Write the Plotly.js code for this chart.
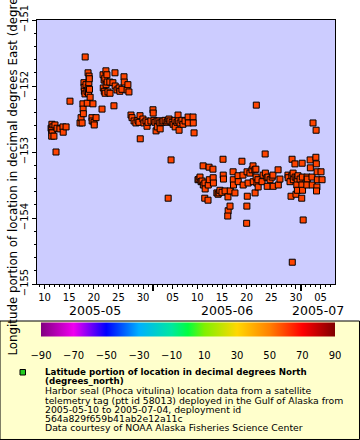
<!DOCTYPE html>
<html>
<head>
<meta charset="utf-8">
<script src="https://cdn.plot.ly/plotly-3.0.1.min.js"></script>
<style>html,body{margin:0;padding:0;background:#fff}#chart{width:360px;height:440px}</style>
</head>
<body>
<div id="chart"></div>
<script>
// ---- data ----
const time = [
'2005-05-11 08:00','2005-05-11 12:00','2005-05-11 17:00','2005-05-11 11:00','2005-05-11 16:00','2005-05-11 13:00','2005-05-11 11:00','2005-05-11 22:00',
'2005-05-12 03:00','2005-05-12 08:00','2005-05-12 13:00','2005-05-13 03:00','2005-05-13 18:00','2005-05-13 19:00','2005-05-14 09:00','2005-05-15 04:00',
'2005-05-17 05:00','2005-05-17 10:00','2005-05-17 15:00','2005-05-17 19:00','2005-05-17 20:00','2005-05-17 21:00',
'2005-05-18 00:00','2005-05-18 01:00','2005-05-18 02:00','2005-05-18 05:00','2005-05-18 06:00','2005-05-18 10:00','2005-05-18 15:00','2005-05-18 16:00',
'2005-05-18 20:00','2005-05-18 21:00','2005-05-18 22:00','2005-05-19 00:00','2005-05-19 01:00','2005-05-19 03:00','2005-05-19 02:00','2005-05-19 06:00',
'2005-05-19 15:00','2005-05-19 16:00','2005-05-19 20:00','2005-05-20 01:00','2005-05-20 02:00','2005-05-20 11:00','2005-05-21 16:00',
'2005-05-21 21:00','2005-05-21 22:00','2005-05-22 02:00','2005-05-22 03:00','2005-05-22 06:00','2005-05-22 07:00','2005-05-22 11:00','2005-05-22 12:00',
'2005-05-22 16:00','2005-05-22 17:00','2005-05-22 21:00','2005-05-23 06:00','2005-05-23 07:00','2005-05-23 21:00','2005-05-24 02:00','2005-05-24 07:00',
'2005-05-24 08:00','2005-05-24 17:00','2005-05-25 03:00','2005-05-25 07:00','2005-05-25 17:00','2005-05-26 03:00','2005-05-26 04:00','2005-05-26 18:00',
'2005-05-26 22:00','2005-05-27 03:00',
'2005-05-27 13:00','2005-05-27 18:00','2005-05-28 04:00','2005-05-28 13:00','2005-05-28 23:00','2005-05-29 04:00','2005-05-29 09:00','2005-05-29 10:00',
'2005-05-29 23:00','2005-05-30 04:00','2005-05-30 14:00','2005-05-30 19:00','2005-05-31 00:00','2005-05-31 14:00','2005-06-01 00:00','2005-06-01 01:00',
'2005-06-01 05:00','2005-06-01 10:00','2005-06-01 15:00','2005-06-01 20:00','2005-06-01 21:00','2005-06-02 05:00','2005-06-02 10:00','2005-06-02 11:00',
'2005-06-02 20:00','2005-06-03 01:00','2005-06-03 11:00','2005-06-03 20:00','2005-06-04 01:00','2005-06-04 02:00','2005-06-04 06:00','2005-06-04 11:00',
'2005-06-04 16:00','2005-06-04 21:00','2005-06-05 02:00','2005-06-05 11:00','2005-06-05 12:00','2005-06-05 21:00','2005-06-06 02:00','2005-06-06 03:00',
'2005-06-06 07:00','2005-06-06 12:00','2005-06-06 21:00','2005-06-07 02:00','2005-06-07 12:00','2005-06-08 03:00','2005-06-08 04:00','2005-06-09 03:00',
'2005-06-09 04:00','2005-06-09 08:00',
'2005-06-10 03:00','2005-06-10 08:00','2005-06-10 13:00','2005-06-10 18:00','2005-06-10 23:00','2005-06-11 04:00','2005-06-11 05:00','2005-06-11 13:00',
'2005-06-11 14:00','2005-06-11 12:00','2005-06-12 04:00','2005-06-12 05:00','2005-06-12 09:00','2005-06-12 10:00','2005-06-13 04:00','2005-06-13 05:00',
'2005-06-13 06:00','2005-06-13 23:00','2005-06-14 05:00','2005-06-14 10:00','2005-06-14 14:00','2005-06-15 00:00','2005-06-15 05:00','2005-06-15 06:00',
'2005-06-15 07:00','2005-06-15 15:00','2005-06-16 05:00','2005-06-16 06:00','2005-06-16 04:00','2005-06-16 15:00','2005-06-16 16:00','2005-06-17 06:00',
'2005-06-17 07:00','2005-06-17 08:00','2005-06-17 15:00','2005-06-18 06:00','2005-06-18 07:00','2005-06-19 01:00','2005-06-19 06:00','2005-06-19 07:00',
'2005-06-20 02:00','2005-06-20 03:00','2005-06-20 01:00','2005-06-20 00:00','2005-06-20 07:00','2005-06-20 16:00','2005-06-21 02:00','2005-06-21 07:00',
'2005-06-21 08:00','2005-06-21 17:00','2005-06-21 16:00','2005-06-21 22:00','2005-06-21 21:00','2005-06-21 23:00','2005-06-22 02:00','2005-06-22 07:00',
'2005-06-22 08:00','2005-06-23 03:00','2005-06-23 08:00','2005-06-23 18:00','2005-06-23 19:00','2005-06-24 03:00','2005-06-24 04:00','2005-06-24 08:00',
'2005-06-24 18:00','2005-06-25 04:00','2005-06-25 08:00','2005-06-25 09:00','2005-06-26 09:00','2005-06-26 10:00','2005-06-26 18:00',
'2005-06-28 09:00','2005-06-28 10:00','2005-06-28 19:00','2005-06-29 00:00','2005-06-29 05:00','2005-06-29 04:00','2005-06-29 06:00','2005-06-29 10:00',
'2005-06-29 11:00','2005-06-29 19:00','2005-06-29 20:00','2005-06-30 00:00','2005-06-30 05:00','2005-06-30 06:00','2005-06-30 04:00','2005-06-30 07:00',
'2005-06-30 10:00','2005-06-30 20:00','2005-07-01 06:00','2005-07-01 07:00','2005-07-01 05:00','2005-07-01 08:00','2005-07-01 04:00','2005-07-01 11:00',
'2005-07-02 06:00','2005-07-02 07:00','2005-07-02 05:00','2005-07-02 21:00','2005-07-02 22:00','2005-07-03 06:00','2005-07-03 07:00','2005-07-03 11:00',
'2005-07-04 02:00','2005-07-04 01:00','2005-07-04 03:00','2005-07-04 07:00','2005-07-04 08:00','2005-07-04 06:00','2005-07-04 04:00','2005-07-05 02:00',
'2005-07-05 07:00'
];
const lonEast = [
-152.64,-152.58,-152.62,-152.67,-152.70,-152.71,-152.76,-152.76,
-152.59,-153.00,-152.64,-152.65,-152.62,-152.70,-152.62,-152.23,
-152.56,-152.48,-152.56,-152.27,-152.35,-152.42,
-151.95,-152.02,-152.08,-152.12,-151.56,-151.98,-152.08,-152.26,
-151.80,-152.02,-152.11,-151.95,-151.85,-152.05,-151.89,-152.17,
-152.48,-152.53,-152.27,-152.55,-152.59,-152.48,-152.35,
-151.83,-152.03,-151.91,-152.08,-151.88,-152.11,-151.77,-151.98,
-151.83,-151.94,-152.09,-151.94,-152.11,-151.95,-152.30,-151.80,
-152.00,-152.06,-152.03,-152.08,-152.05,-151.86,-151.94,-152.06,
-151.98,-152.09,
-152.44,-152.48,-152.53,-152.56,-152.52,-152.55,-152.45,-152.80,
-152.50,-152.56,-152.53,-152.61,-152.55,-152.53,-152.36,-152.41,
-152.52,-152.55,-152.68,-152.53,-152.62,-152.53,-152.56,-152.65,
-152.55,-152.53,-152.52,-152.55,-152.53,-153.70,-152.50,-152.53,
-153.12,-152.55,-152.58,-152.52,-152.62,-152.55,-152.44,-152.53,
-152.67,-152.56,-152.52,-152.58,-152.53,-152.47,-152.56,-152.47,
-152.56,-152.71,
-153.42,-153.41,-153.38,-153.45,-153.44,-153.21,-153.50,-153.47,
-153.56,-153.70,-153.73,-153.50,-153.23,-153.42,-153.26,-153.39,
-153.47,-153.62,-153.64,-153.62,-153.58,-153.61,-153.11,-153.35,
-153.41,-153.59,-153.68,-153.89,-153.97,-153.82,-153.59,-153.30,
-153.42,-153.50,-153.62,-153.36,-153.45,-153.14,-153.35,-153.50,
-153.30,-153.67,-153.82,-154.08,-153.47,-153.32,-153.27,-153.21,
-153.45,-153.62,-153.27,-153.38,-153.26,-152.29,-153.47,-153.42,
-153.53,-153.45,-153.35,-153.03,-153.32,-153.39,-153.52,-153.38,
-153.42,-153.38,-153.35,-153.52,-153.27,-153.50,-153.41,
-153.35,-153.39,-153.45,-153.67,-153.11,-153.36,-154.67,-153.32,
-153.42,-153.18,-153.38,-153.64,-153.39,-153.42,-153.50,-153.58,
-153.36,-153.41,-153.17,-153.38,-153.50,-153.58,-153.70,-154.03,
-153.38,-153.41,-153.50,-153.12,-153.24,-153.38,-153.50,-152.56,
-152.67,-153.08,-153.18,-153.30,-153.42,-153.53,-153.59,-153.30,
-153.42
];
const dayTickVals = ['2005-05-10','2005-05-15','2005-05-20','2005-05-25','2005-05-30','2005-06-05','2005-06-10','2005-06-15','2005-06-20','2005-06-25','2005-06-30','2005-07-05'];
const dayTickText = ['10','15','20','25','30','05','10','15','20','25','30','05'];
const monthStarts = ['2005-05-01','2005-06-01','2005-07-01','2005-08-01'];
const monthLabels = ['2005-05','2005-06','2005-07'];
const colorbarTicks = [-90,-70,-50,-30,-10,10,30,50,70,90];
const yTitle = 'Longitude portion of location in decimal degrees East (degrees_east)';
const legendLines = [
  '<b>Latitude portion of location in decimal degrees North</b>',
  '<b>(degrees_north)</b>',
  'Harbor seal (Phoca vitulina) location data from a satellite',
  'telemetry tag (ptt id 58013) deployed in the Gulf of Alaska from',
  '2005-05-10 to 2005-07-04, deployment id',
  '564a829f659b41ab2e12a11c',
  'Data courtesy of NOAA Alaska Fisheries Science Center'
];

// ---- styling / layout ----
const xRange = ['2005-05-08 11:30', '2005-07-07 22:00'];
const FONT = 'DejaVu Sans, Verdana, sans-serif';
const colorscale = [[0,'#800080'],[0.111,'#f000f0'],[0.222,'#0000ff'],[0.333,'#00b0ff'],[0.444,'#00e8a0'],[0.5,'#00ff40'],[0.556,'#80f000'],[0.667,'#ffd800'],[0.778,'#ff8000'],[0.889,'#ff0000'],[1,'#800000']];

const toMs = s => Date.parse(s.replace(' ','T') + (s.length <= 10 ? 'T00:00:00Z' : ':00Z'));
const fmt = ms => new Date(ms).toISOString().slice(0,19).replace('T',' ');
const r0 = toMs(xRange[0]), r1 = toMs(xRange[1]);

const annotations = [];
for (let i = 0; i < monthLabels.length; i++) {
  const a = Math.max(r0, toMs(monthStarts[i])), b = Math.min(r1, toMs(monthStarts[i+1]));
  annotations.push({xref:'x', yref:'paper', x: fmt((a+b)/2), y: -0.1004, yanchor:'middle', xanchor:'center',
    text: monthLabels[i], showarrow:false, font:{family:FONT, size:12.5, color:'#000'}});
}
const lineY = [-0.3333,-0.3674,-0.4034,-0.4394,-0.4735,-0.5095,-0.5436];
legendLines.forEach((t,i) => annotations.push({xref:'paper', yref:'paper', x:0.0201, y:lineY[i], xanchor:'left', yanchor:'middle',
  text:t, showarrow:false, font:{family:FONT, size: i < 2 ? 8.7 : 9.3, color:'#000'}}));
// y-axis title (placed as rotated annotation to match position)
annotations.push({xref:'paper', yref:'paper', x:-0.0822, y:0.5, xanchor:'center', yanchor:'middle', textangle:-90,
  text:yTitle, showarrow:false, font:{family:FONT, size:11.8, color:'#000'}});

const traces = [
  {type:'scatter', mode:'markers', x: time, y: lonEast, hoverinfo:'skip',
   marker:{symbol:'square', size:6, color:'#ff4400', line:{color:'#000', width:1}}},
  {type:'scatter', mode:'markers', x:[null], y:[null], xaxis:'x2', hoverinfo:'skip',
   marker:{color:[0], cmin:-90, cmax:90, colorscale: colorscale, showscale:true,
     colorbar:{orientation:'h', x:0.5067, xanchor:'center', y:-0.2197, yanchor:'middle',
       len:294, lenmode:'pixels', thickness:14, thicknessmode:'pixels', outlinewidth:0,
       xpad:0, ypad:0, tickmode:'array', tickvals: colorbarTicks, ticks:'outside', ticklen:11, tickcolor:'rgba(0,0,0,0)',
       tickfont:{family:FONT, size:10, color:'#000'}}}}
];

const layout = {
  width:360, height:440, margin:{l:37, r:25, t:20, b:156, pad:0},
  paper_bgcolor:'#ffffff', plot_bgcolor:'#ccccff', showlegend:false,
  font:{family:FONT, color:'#000'},
  xaxis:{type:'date', range:xRange, tickmode:'array', tickvals:dayTickVals, ticktext:dayTickText,
    ticks:'outside', ticklen:4, tickcolor:'#000', tickfont:{family:FONT, size:10},
    showline:true, mirror:true, linecolor:'#000', linewidth:1, showgrid:false, zeroline:false,
    minor:{tickmode:'linear', tick0:'2005-05-01', dtick:86400000, ticks:'outside', ticklen:2, tickcolor:'#000', showgrid:false}},
  xaxis2:{type:'date', range:xRange, overlaying:'x', anchor:'y', side:'bottom', tickmode:'array', tickvals:monthStarts,
    ticks:'outside', ticklen:6, tickwidth:2, tickcolor:'#000', showticklabels:false, showline:false, showgrid:false, zeroline:false},
  yaxis:{range:[-155,-151], tick0:-155, dtick:1, tickangle:-90, ticks:'outside', ticklen:4, tickcolor:'#000',
    tickfont:{family:FONT, size:10}, showline:true, mirror:true, linecolor:'#000', linewidth:1, showgrid:false, zeroline:false,
    minor:{dtick:0.2, ticks:'outside', ticklen:2, tickcolor:'#000', showgrid:false}},
  shapes:[
    {type:'rect', xref:'paper', yref:'paper', x0:-0.1242, x1:1.0822, y0:-0.589, y1:-0.1402, fillcolor:'#ffffcc', line:{color:'#000', width:1}, layer:'below'},
    {type:'rect', xref:'paper', yref:'paper', x0:-0.057, x1:-0.0386, y0:-0.3447, y1:-0.3239, fillcolor:'#22cc22', line:{color:'#000', width:1}}
  ],
  annotations: annotations
};

Plotly.newPlot('chart', traces, layout, {displayModeBar:false, staticPlot:true});
</script>
</body>
</html>
